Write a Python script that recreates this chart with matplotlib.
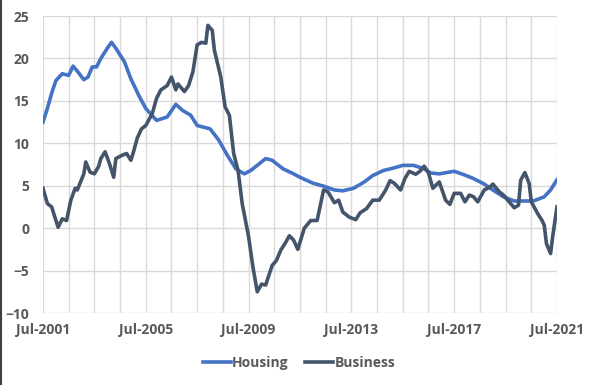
import numpy as np
import matplotlib
matplotlib.use("Agg")
import matplotlib.pyplot as plt
import matplotlib.dates as mdates
from matplotlib.lines import Line2D

# months since Jul-2001
housing_months = [0, 2, 4, 6, 9, 12, 14, 16, 19, 21, 23, 25, 27, 30, 32, 34, 38, 41, 45, 48,
                  53, 58, 62, 65, 69, 72, 78, 82, 86, 90, 94, 97, 101, 104, 107, 112, 117, 120,
                  126, 131, 136, 140, 145, 150, 154, 159, 164, 168, 173, 178, 181, 185, 192, 196,
                  201, 206, 210, 215, 220, 224, 229, 234, 237, 240]
housing = [12.5, 14.1, 15.9, 17.4, 18.2, 18.0, 19.1, 18.5, 17.5, 17.8, 19.0, 19.0, 20.0, 21.2,
           21.9, 21.2, 19.6, 17.6, 15.5, 14.1, 12.7, 13.1, 14.6, 13.9, 13.3, 12.1, 11.7, 10.4,
           8.6, 7.0, 6.4, 6.8, 7.6, 8.2, 8.0, 7.0, 6.4, 6.0, 5.3, 4.95, 4.5, 4.4, 4.7, 5.45, 6.2,
           6.8, 7.1, 7.4, 7.4, 7.0, 6.5, 6.4, 6.7, 6.35, 5.85, 5.2, 4.5, 3.7, 3.2, 3.2, 3.2, 3.7,
           4.5, 5.7]

business_months = [0, 2, 4, 6, 7, 9, 11, 13, 15, 16, 19, 20, 22, 24, 26, 27, 29, 31, 33, 34,
                   37, 39, 41, 42, 44, 46, 48, 51, 53, 55, 58, 60, 62, 63, 66, 68, 70, 72, 74,
                   76, 77, 79, 80, 83, 85, 87, 89, 91, 93, 96, 98, 100, 102, 104, 105, 107, 109,
                   111, 113, 115, 117, 119, 122, 125, 128, 131, 133, 136, 138, 140, 143, 146,
                   148, 151, 154, 157, 160, 162, 164, 167, 169, 171, 174, 176, 178, 180, 182,
                   185, 188, 190, 192, 195, 197, 199, 201, 203, 206, 209, 210, 213, 215, 218,
                   220, 222, 223, 225, 227, 228, 231, 233, 234, 235, 237, 238, 240]
business = [4.7, 2.9, 2.5, 0.9, 0.1, 1.1, 0.9, 3.3, 4.7, 4.5, 6.4, 7.8, 6.6, 6.4, 7.3, 8.2, 9.0,
            7.6, 6.0, 8.2, 8.6, 8.8, 8.0, 8.8, 10.6, 11.7, 12.1, 13.5, 15.3, 16.3, 16.8, 17.8,
            16.3, 17.0, 16.1, 16.8, 18.4, 21.6, 21.9, 21.8, 23.9, 23.3, 21.0, 17.8, 14.3, 13.3,
            8.8, 6.8, 2.9, -1.0, -4.6, -7.5, -6.6, -6.7, -5.9, -4.4, -3.8, -2.6, -1.8, -0.9,
            -1.4, -2.5, 0.0, 0.9, 0.9, 4.5, 4.3, 3.0, 3.3, 1.9, 1.3, 1.0, 1.8, 2.3, 3.3, 3.3, 4.5,
            5.6, 5.3, 4.5, 5.85, 6.7, 6.35, 6.7, 7.3, 6.5, 4.7, 5.45, 3.3, 2.8, 4.1, 4.1, 3.1,
            3.9, 3.7, 3.1, 4.5, 4.9, 5.2, 4.3, 3.9, 3.0, 2.4, 2.7, 5.65, 6.55, 5.25, 3.1, 1.7,
            0.9, 0.35, -1.8, -3.0, -1.0, 2.5]

tick_years = [2001, 2005, 2009, 2013, 2017, 2021]

start = np.datetime64("2001-07", "M")


def to_dates(months):
    return (start + np.array(months)).astype("datetime64[D]")


plt.rcParams["font.family"] = ["Open Sans", "DejaVu Sans"]

fig = plt.figure(figsize=(5.98, 3.85), dpi=100)
ax = fig.add_axes([0.0719, 0.187, 0.8595, 0.7714])

blue = "#4472C4"
dark = "#44546A"
ax.plot(to_dates(housing_months), housing, color=blue, lw=2.6, label="Housing", zorder=3)
ax.plot(to_dates(business_months), business, color=dark, lw=2.6, label="Business", zorder=3)

ax.set_ylim(-10, 25)
ax.set_yticks(range(-10, 30, 5))
ax.set_xlim(np.datetime64("2001-07-01"), np.datetime64("2021-07-01"))
ax.set_xticks([np.datetime64(f"{y}-07-01") for y in tick_years])
ax.xaxis.set_minor_locator(mdates.YearLocator(base=1, month=7, day=1))
ax.xaxis.set_major_formatter(mdates.DateFormatter("%b-%Y"))

ax.grid(True, which="both", axis="x", color="#D9D9D9", lw=1)
ax.grid(True, which="major", axis="y", color="#D9D9D9", lw=1)
ax.set_axisbelow(True)
for s in ax.spines.values():
    s.set_visible(False)
ax.tick_params(which="both", length=0)
ax.tick_params(axis="y", pad=10)
ax.tick_params(axis="x", pad=7)
for lbl in ax.get_xticklabels() + ax.get_yticklabels():
    lbl.set_fontsize(10)
    lbl.set_fontweight("bold")
    lbl.set_color("#595959")

leg = fig.legend(loc="center", bbox_to_anchor=(0.5, 0.057), ncol=2, frameon=False,
                 handlelength=2.0, handletextpad=0.1, columnspacing=1.2,
                 prop={"size": 10, "weight": "bold"})
for t in leg.get_texts():
    t.set_color("#595959")

fig.add_artist(Line2D([0.002, 0.002], [0, 1], transform=fig.transFigure, color="#404040", lw=1.5))

fig.savefig("out.png", dpi=100)
